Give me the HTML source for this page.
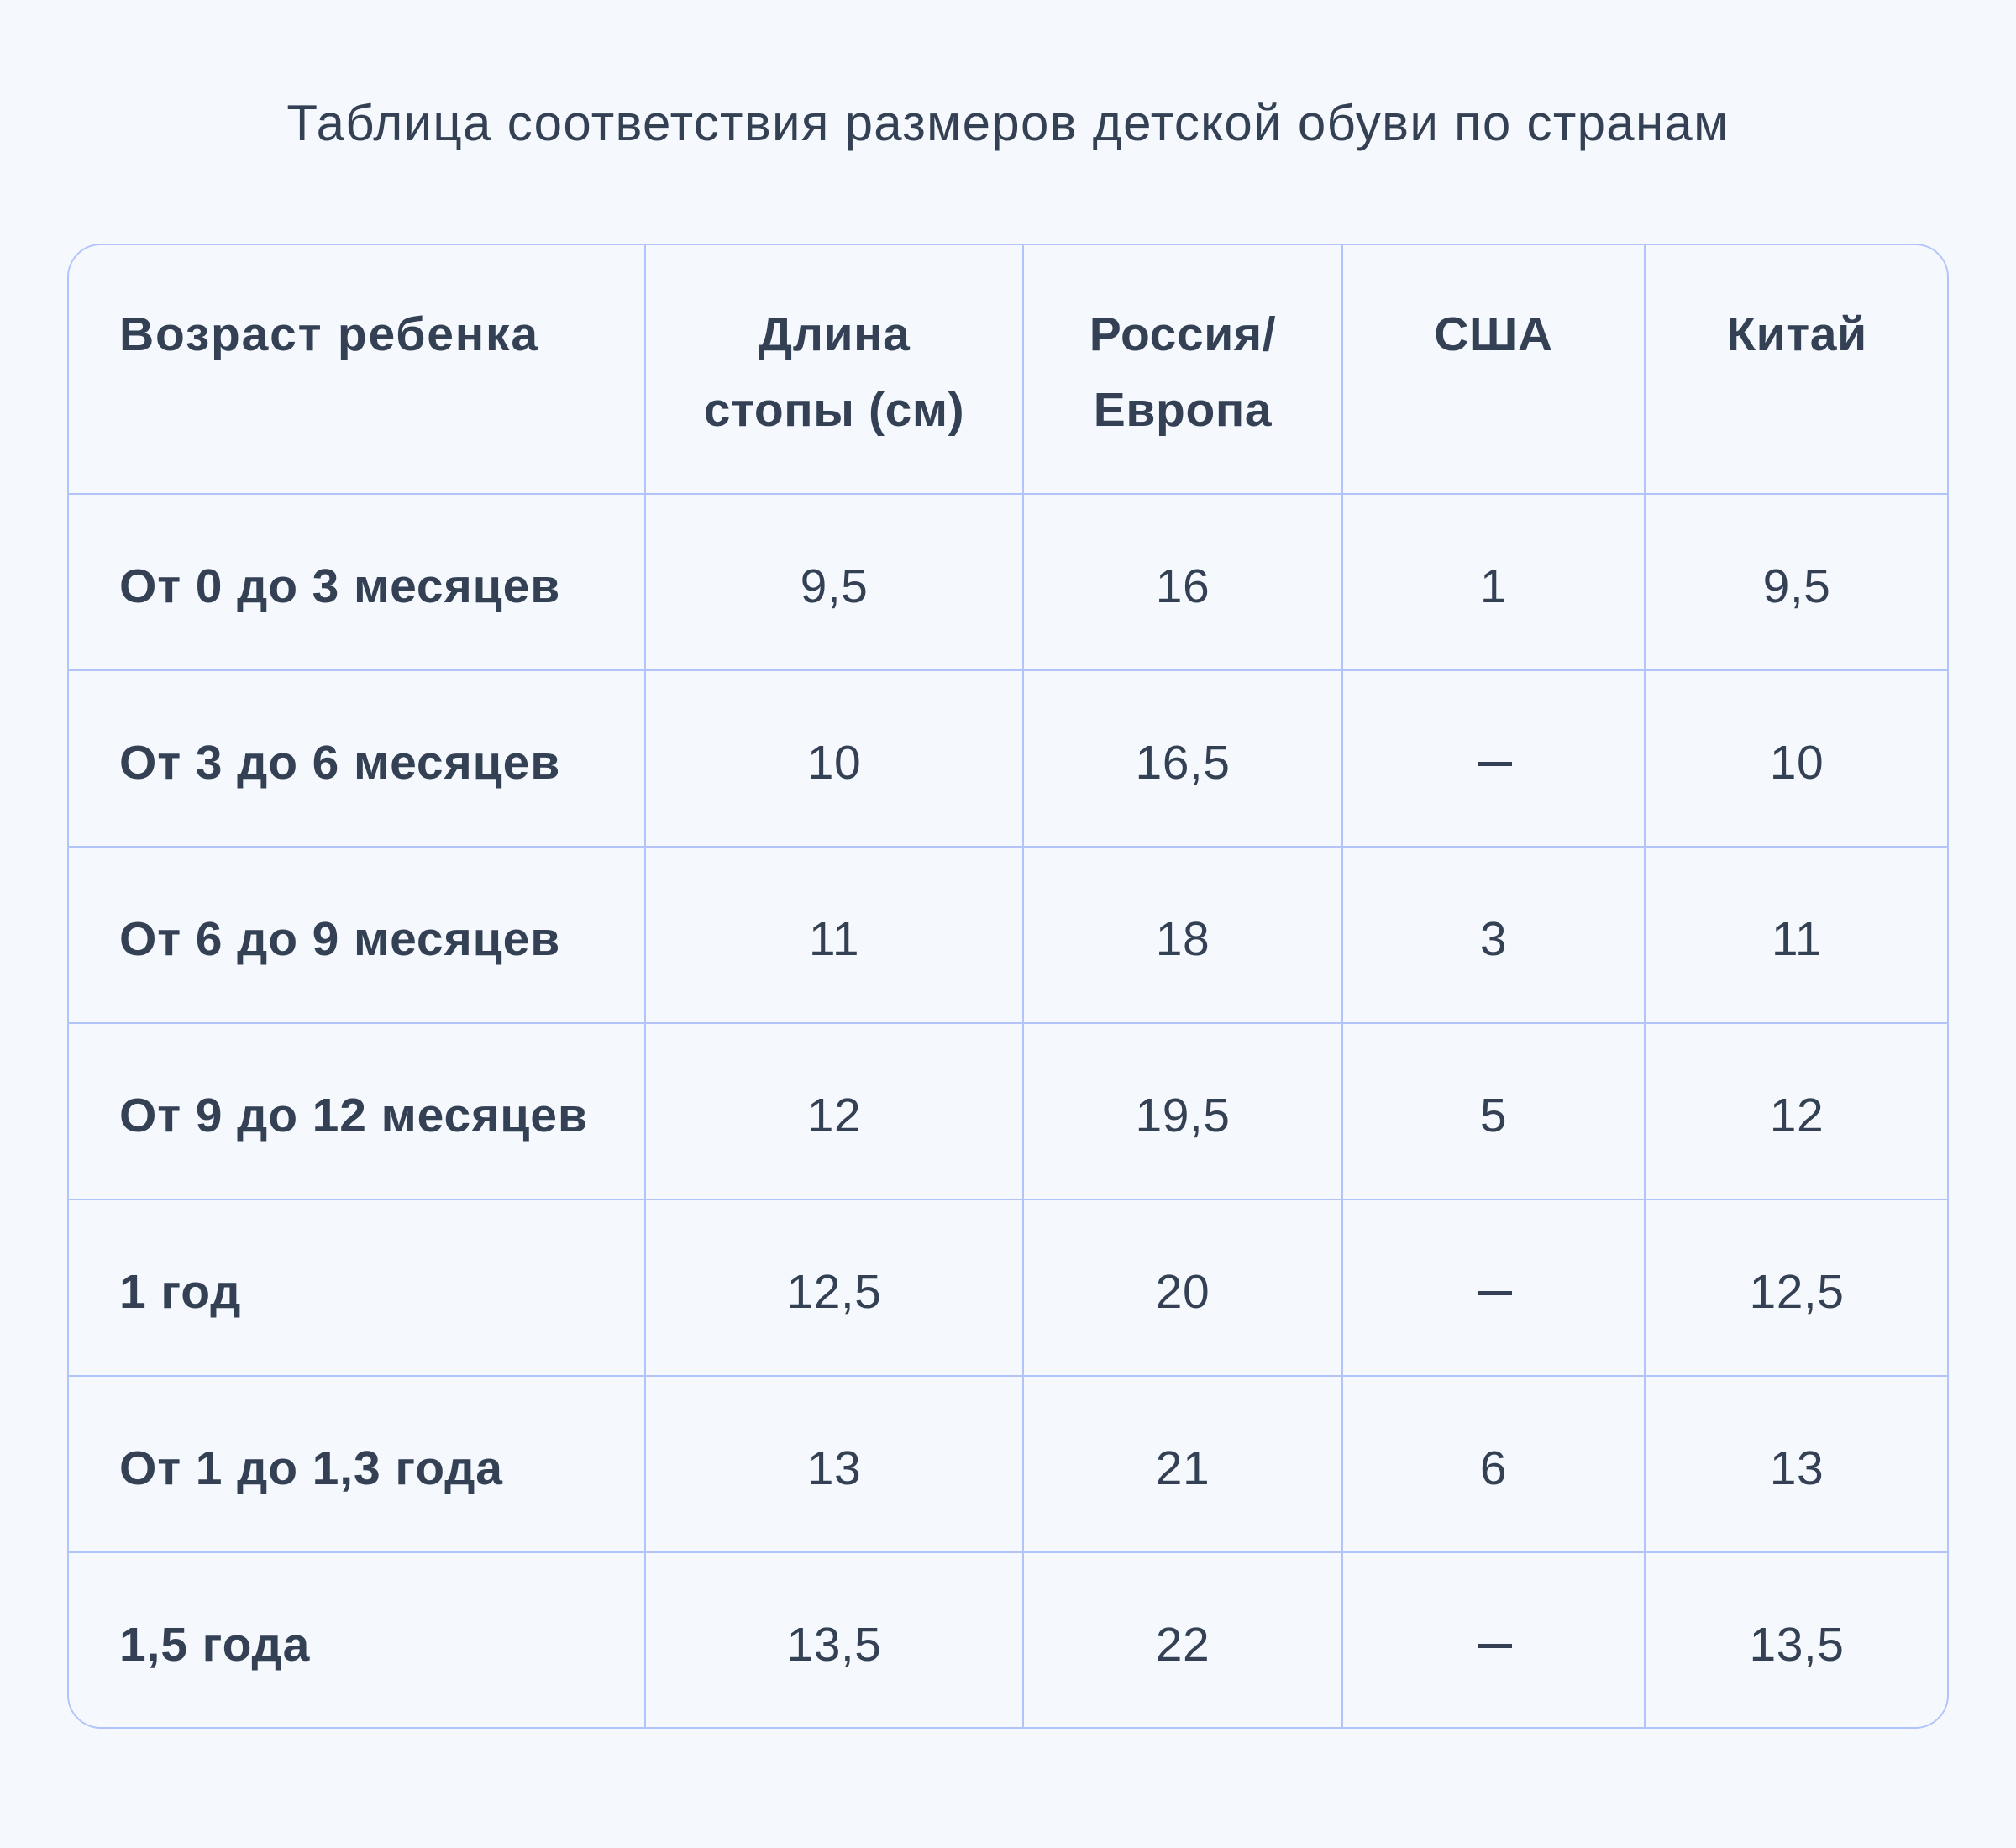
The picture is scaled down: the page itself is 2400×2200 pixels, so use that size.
<!DOCTYPE html>
<html>
<head>
<meta charset="utf-8">
<style>
  html, body { margin:0; padding:0; }
  body { width:2400px; height:2200px; background:#F5F9FE; position:relative; overflow:hidden;
         font-family:"Liberation Sans", "Noto Sans CJK SC", sans-serif; color:#344154; }
  .title { position:absolute; left:0; width:2400px; top:117px; font-size:60px; line-height:60px;
           text-align:center; font-weight:400; letter-spacing:1.3px; }
  .tbl { position:absolute; left:80px; top:290px; width:2236px; height:1764px;
         border:2px solid #B3C4FB; border-radius:40px; }
  .vl { position:absolute; top:291px; height:1766px; width:2px; background:#B3C4FB; }
  .hl { position:absolute; left:81px; width:2238px; height:2px; background:#B3C4FB; }
  .h { position:absolute; top:353px; font-size:57px; line-height:90px; font-weight:700; text-align:center; letter-spacing:0.6px; }
  .c0 { position:absolute; left:142px; font-size:57px; line-height:57px; font-weight:700; white-space:nowrap; letter-spacing:0.9px; }
  .n { position:absolute; font-size:57px; line-height:57px; font-weight:400; text-align:center; white-space:nowrap; letter-spacing:0.5px; }
  .d { position:absolute; width:41px; height:5px; background:#344154; }
</style>
</head>
<body>
<div class="title">Таблица соответствия размеров детской обуви по странам</div>

<div class="tbl"></div>
<div class="vl" style="left:767px"></div>
<div class="vl" style="left:1217px"></div>
<div class="vl" style="left:1597px"></div>
<div class="vl" style="left:1957px"></div>

<div class="hl" style="top:587px"></div>
<div class="hl" style="top:797px"></div>
<div class="hl" style="top:1007px"></div>
<div class="hl" style="top:1217px"></div>
<div class="hl" style="top:1427px"></div>
<div class="hl" style="top:1637px"></div>
<div class="hl" style="top:1847px"></div>

<!-- header -->
<div class="h" style="left:142px;text-align:left;letter-spacing:1.8px;">Возраст ребенка</div>
<div class="h" style="left:768px;width:450px;">Длина<br>стопы (см)</div>
<div class="h" style="left:1218px;width:380px;">Россия/<br>Европа</div>
<div class="h" style="left:1598px;width:360px;">США</div>
<div class="h" style="left:1958px;width:362px;">Китай</div>

<!-- rows -->
<div class="c0" style="top:670px">От 0 до 3 месяцев</div>
<div class="c0" style="top:880px">От 3 до 6 месяцев</div>
<div class="c0" style="top:1090px">От 6 до 9 месяцев</div>
<div class="c0" style="top:1300px">От 9 до 12 месяцев</div>
<div class="c0" style="top:1510px">1 год</div>
<div class="c0" style="top:1720px">От 1 до 1,3 года</div>
<div class="c0" style="top:1930px">1,5 года</div>

<!-- column 2 -->
<div class="n" style="left:768px;width:450px;top:670px">9,5</div>
<div class="n" style="left:768px;width:450px;top:880px">10</div>
<div class="n" style="left:768px;width:450px;top:1090px">11</div>
<div class="n" style="left:768px;width:450px;top:1300px">12</div>
<div class="n" style="left:768px;width:450px;top:1510px">12,5</div>
<div class="n" style="left:768px;width:450px;top:1720px">13</div>
<div class="n" style="left:768px;width:450px;top:1930px">13,5</div>

<!-- column 3 -->
<div class="n" style="left:1218px;width:380px;top:670px">16</div>
<div class="n" style="left:1218px;width:380px;top:880px">16,5</div>
<div class="n" style="left:1218px;width:380px;top:1090px">18</div>
<div class="n" style="left:1218px;width:380px;top:1300px">19,5</div>
<div class="n" style="left:1218px;width:380px;top:1510px">20</div>
<div class="n" style="left:1218px;width:380px;top:1720px">21</div>
<div class="n" style="left:1218px;width:380px;top:1930px">22</div>

<!-- column 4 -->
<div class="n" style="left:1598px;width:360px;top:670px">1</div>
<div class="d" style="left:1759px;top:907px"></div>
<div class="n" style="left:1598px;width:360px;top:1090px">3</div>
<div class="n" style="left:1598px;width:360px;top:1300px">5</div>
<div class="d" style="left:1759px;top:1537px"></div>
<div class="n" style="left:1598px;width:360px;top:1720px">6</div>
<div class="d" style="left:1759px;top:1957px"></div>

<!-- column 5 -->
<div class="n" style="left:1958px;width:362px;top:670px">9,5</div>
<div class="n" style="left:1958px;width:362px;top:880px">10</div>
<div class="n" style="left:1958px;width:362px;top:1090px">11</div>
<div class="n" style="left:1958px;width:362px;top:1300px">12</div>
<div class="n" style="left:1958px;width:362px;top:1510px">12,5</div>
<div class="n" style="left:1958px;width:362px;top:1720px">13</div>
<div class="n" style="left:1958px;width:362px;top:1930px">13,5</div>
</body>
</html>
